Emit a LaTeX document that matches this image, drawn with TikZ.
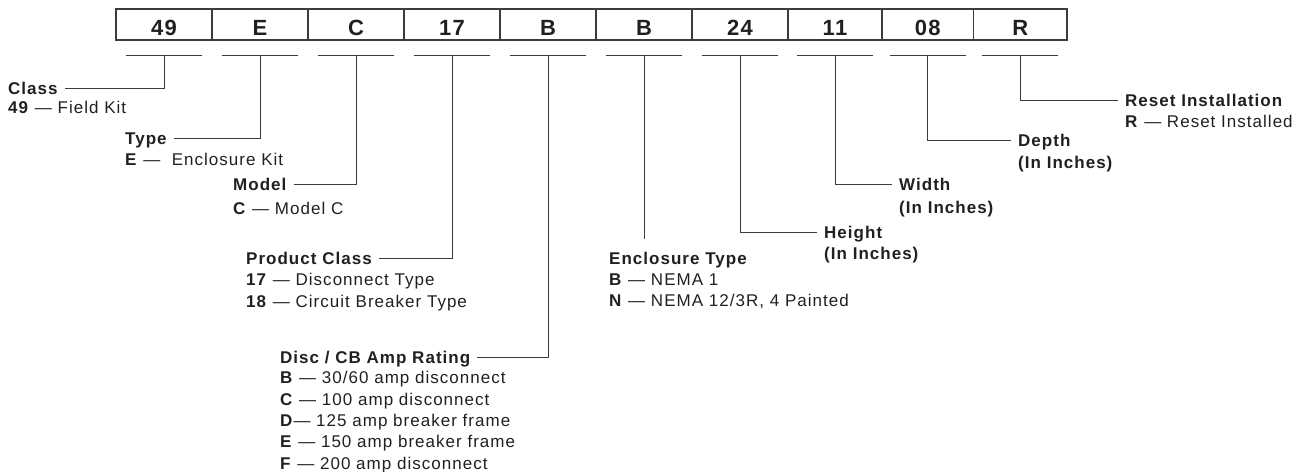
\documentclass[tikz,border=0pt]{standalone}
\usepackage{fontspec}
\setmainfont{Liberation Sans}[LetterSpace=6]
\definecolor{ink}{HTML}{231F20}
\definecolor{rule}{HTML}{3C3C3C}

\begin{document}
\begin{tikzpicture}[x = 1pt, y = -1pt,
        cell/.style = {draw = rule, line width = 1.2pt, minimum width = 96pt, minimum height = 31pt, inner sep = 0pt,
                       text height = 21.5pt, text depth = 0pt, font = \fontsize{22}{26}\selectfont\bfseries, text = ink},
        ttl/.style = {anchor = west, inner sep = 0pt, text height = 12.17pt, text depth = 0pt,
                      font = \fontsize{17}{21.3}\selectfont\bfseries, text = ink},
        dsc/.style = {anchor = north west, align = left, inner sep = 0pt, font = \fontsize{17}{21.3}\selectfont, text = ink},
        lead/.style = {draw = rule, line width = 1pt}]
                \useasboundingbox (0, 0) rectangle (1303, 471);
                % catalogue number boxes
                \node[cell] (cls) at (164, 24.5) {49};
                \node[cell] (typ) at (260, 24.5) {E};
                \node[cell] (mdl) at (356, 24.5) {C};
                \node[cell] (prd) at (452, 24.5) {17};
                \node[cell] (amp) at (548, 24.5) {B};
                \node[cell] (enc) at (644, 24.5) {B};
                \node[cell] (hgt) at (740, 24.5) {24};
                \node[cell, minimum width = 94pt] (wid) at (835, 24.5) {11};
                \node[cell, minimum width = 91.5pt] (dep) at (927.75, 24.5) {08};
                \node[cell, minimum width = 93.5pt] (rst) at (1020.25, 24.5) {R};
                % underlines
                \coordinate (clsU) at ([yshift = -15pt]cls.south);
                \coordinate (typU) at ([yshift = -15pt]typ.south);
                \coordinate (mdlU) at ([yshift = -15pt]mdl.south);
                \coordinate (prdU) at ([yshift = -15pt]prd.south);
                \coordinate (ampU) at ([yshift = -15pt]amp.south);
                \coordinate (encU) at ([yshift = -15pt]enc.south);
                \coordinate (hgtU) at ([yshift = -15pt]hgt.south);
                \coordinate (widU) at ([yshift = -15pt]wid.south);
                \coordinate (depU) at ([yshift = -15pt]dep.south);
                \coordinate (rstU) at ([yshift = -15pt]rst.south);
                \draw[lead] ([xshift = -38pt]clsU) -- ([xshift = 38pt]clsU);
                \draw[lead] ([xshift = -38pt]typU) -- ([xshift = 38pt]typU);
                \draw[lead] ([xshift = -38pt]mdlU) -- ([xshift = 38pt]mdlU);
                \draw[lead] ([xshift = -38pt]prdU) -- ([xshift = 38pt]prdU);
                \draw[lead] ([xshift = -38pt]ampU) -- ([xshift = 38pt]ampU);
                \draw[lead] ([xshift = -38pt]encU) -- ([xshift = 38pt]encU);
                \draw[lead] ([xshift = -38pt]hgtU) -- ([xshift = 38pt]hgtU);
                \draw[lead] ([xshift = -38pt]widU) -- ([xshift = 38pt]widU);
                \draw[lead] ([xshift = -38pt]depU) -- ([xshift = 38pt]depU);
                \draw[lead] ([xshift = -38pt]rstU) -- ([xshift = 38pt]rstU);
                % left hand labels
                \node[ttl] (clsT) at (8, 88) {Class};
                \node[dsc] (clsD) at (8, 101.4) {\textbf{49} — Field Kit};
                \node[ttl] (typT) at (125, 138) {Type};
                \node[dsc] (typD) at (125, 152.9) {\textbf{E} —~ Enclosure Kit};
                \node[ttl] (mdlT) at (233, 184) {Model};
                \node[dsc] (mdlD) at (233, 201.9) {\textbf{C} — Model C};
                \node[ttl] (prdT) at (246, 258.5) {Product Class};
                \node[dsc] (prdD) at (246, 273.4) {\textbf{17} — Disconnect Type\\\textbf{18} — Circuit Breaker Type};
                \node[ttl] (ampT) at (280, 357.5) {Disc / CB Amp Rating};
                \node[dsc] (ampD) at (280, 371.4) {\textbf{B} — 30/60 amp disconnect\\\textbf{C} — 100 amp disconnect\\\textbf{D}— 125 amp breaker frame\\\textbf{E} — 150 amp breaker frame\\\textbf{F} — 200 amp disconnect};
                % lower and right hand labels
                \node[ttl] (encT) at (609, 258) {Enclosure Type};
                \node[dsc] (encD) at (609, 273.6) {\textbf{B} — NEMA 1\\\textbf{N} — NEMA 12/3R, 4 Painted};
                \node[ttl] (hgtT) at (824, 232) {Height};
                \node[dsc] (hgtD) at (824, 247.4) {\textbf{(In Inches)}};
                \node[ttl] (widT) at (899, 184.5) {Width};
                \node[dsc] (widD) at (899, 200.9) {\textbf{(In Inches)}};
                \node[ttl] (depT) at (1018, 140) {Depth};
                \node[dsc] (depD) at (1018, 155.9) {\textbf{(In Inches)}};
                \node[ttl] (rstT) at (1125, 100) {Reset Installation};
                \node[dsc] (rstD) at (1125, 114.9) {\textbf{R} — Reset Installed};
                % leaders
                \draw[lead] (clsU) |- ([xshift = 7pt]clsT.east);
                \draw[lead] (typU) |- ([xshift = 7pt]typT.east);
                \draw[lead] (mdlU) |- ([xshift = 7pt]mdlT.east);
                \draw[lead] (prdU) |- ([xshift = 7pt]prdT.east);
                \draw[lead] (ampU) |- ([xshift = 7pt]ampT.east);
                \draw[lead] (encU) -- ([yshift = 13pt]encT.north -| encU);
                \draw[lead] (hgtU) |- ([xshift = -7pt]hgtT.west);
                \draw[lead] (widU) |- ([xshift = -7pt]widT.west);
                \draw[lead] (depU) |- ([xshift = -7pt]depT.west);
                \draw[lead] (rstU) |- ([xshift = -7pt]rstT.west);
\end{tikzpicture}
\end{document}
